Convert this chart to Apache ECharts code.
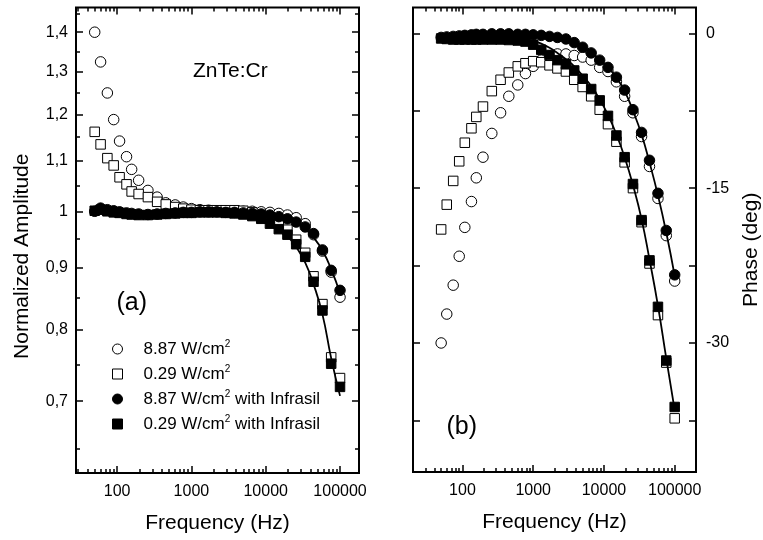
<!DOCTYPE html>
<html><head><meta charset="utf-8">
<script src="https://cdn.jsdelivr.net/npm/echarts@6/dist/echarts.min.js"></script>
<style>html,body{margin:0;padding:0;background:#fff}#c{width:763px;height:540px}</style>
</head><body><div id="c"></div>
<script>
// ---------- data ----------
const freq = [50, 60, 74, 90, 108, 134, 157, 195, 260, 346, 452, 605, 777, 1000, 1300, 1700, 2200, 2900, 3800, 5000, 6600, 8700, 11400, 15000, 19600, 25700, 34000, 44000, 58000, 76000, 100000];
const fitFreq = [1000, 1300, 1700, 2200, 2900, 3800, 5000, 6600, 8700, 11400, 15000, 19600, 25700, 34000, 44000, 58000, 76000, 100000];

// (a) normalized amplitude
const ampOpenCircle = [1.400, 1.324, 1.249, 1.188, 1.141, 1.108, 1.082, 1.060, 1.040, 1.027, 1.016, 1.012, 1.008, 1.005, 1.003, 1.002, 1.001, 1.000, 1.000, 1.000, 1.000, 0.999, 0.998, 0.996, 0.993, 0.988, 0.977, 0.957, 0.928, 0.892, 0.851];
const ampOpenSquare = [1.161, 1.134, 1.105, 1.090, 1.066, 1.052, 1.038, 1.033, 1.027, 1.018, 1.013, 1.008, 1.005, 1.003, 1.002, 1.002, 1.002, 1.002, 1.002, 1.001, 0.998, 0.993, 0.986, 0.976, 0.966, 0.948, 0.925, 0.885, 0.840, 0.760, 0.731];
const ampFilledCircle = [1.000, 1.006, 1.003, 1.001, 0.999, 0.997, 0.996, 0.995, 0.994, 0.995, 0.996, 0.997, 0.998, 0.998, 0.999, 0.999, 0.999, 0.998, 0.998, 0.997, 0.996, 0.995, 0.993, 0.990, 0.986, 0.980, 0.971, 0.959, 0.930, 0.895, 0.862];
const ampFilledSquare = [1.001, 1.003, 1.000, 0.998, 0.997, 0.995, 0.994, 0.993, 0.993, 0.994, 0.995, 0.996, 0.997, 0.997, 0.998, 0.998, 0.998, 0.997, 0.996, 0.994, 0.991, 0.986, 0.977, 0.967, 0.957, 0.940, 0.918, 0.876, 0.830, 0.751, 0.719];
const ampFitCircle = [0.999, 0.999, 0.999, 0.999, 0.999, 0.998, 0.998, 0.997, 0.996, 0.994, 0.990, 0.985, 0.978, 0.967, 0.952, 0.929, 0.897, 0.857];
const ampFitSquare = [0.998, 0.998, 0.998, 0.998, 0.997, 0.996, 0.994, 0.991, 0.986, 0.979, 0.969, 0.955, 0.935, 0.908, 0.872, 0.824, 0.759, 0.707];

// (b) phase (deg)
const phOpenCircle = [-30.0, -27.2, -24.4, -21.6, -18.8, -16.3, -14.0, -12.0, -9.7, -7.7, -6.1, -5.0, -3.9, -3.2, -2.6, -2.2, -2.0, -2.0, -2.15, -2.3, -2.6, -3.3, -3.7, -4.7, -6.1, -7.7, -10.0, -12.9, -16.0, -19.6, -24.0];
const phOpenSquare = [-19.0, -16.6, -14.3, -12.4, -10.6, -9.2, -8.1, -7.1, -5.6, -4.5, -3.8, -3.2, -2.9, -2.7, -2.8, -3.1, -3.4, -3.7, -4.5, -5.2, -6.1, -7.4, -8.8, -10.5, -12.5, -15.0, -18.3, -22.3, -27.3, -31.9, -37.3];
const phFilledCircle = [-0.4, -0.35, -0.3, -0.25, -0.2, -0.15, -0.1, -0.1, -0.05, -0.05, -0.05, -0.1, -0.1, -0.15, -0.2, -0.3, -0.4, -0.55, -0.9, -1.35, -1.9, -2.6, -3.3, -4.25, -5.5, -7.4, -9.6, -12.3, -15.5, -19.1, -23.4];
const phFilledSquare = [-0.5, -0.55, -0.6, -0.6, -0.6, -0.6, -0.6, -0.6, -0.6, -0.6, -0.65, -0.7, -0.8, -1.1, -1.6, -2.1, -2.6, -3.0, -3.6, -4.4, -5.4, -6.5, -8.0, -9.9, -12.0, -14.6, -18.1, -22.0, -26.5, -31.7, -36.2];
const phFitCircle = [-0.2, -0.3, -0.4, -0.55, -0.75, -1.0, -1.4, -1.9, -2.5, -3.3, -4.3, -5.6, -7.5, -9.8, -12.5, -15.7, -19.3, -23.5];
const phFitSquare = [-0.7, -1.0, -1.4, -1.9, -2.5, -3.2, -4.1, -5.1, -6.4, -7.9, -9.8, -12.0, -14.7, -18.0, -21.9, -26.4, -31.5, -36.5];

const seriesNames = ['8.87 W/cm²', '0.29 W/cm²', '8.87 W/cm² with Infrasil', '0.29 W/cm² with Infrasil'];

// ---------- ticks ----------
const xMajorTicks = [100, 1000, 10000, 100000];
const xMajorLabels = ['100', '1000', '10000', '100000'];
const xMinorTicks = [30, 40, 50, 60, 70, 80, 90, 200, 300, 400, 500, 600, 700, 800, 900, 2000, 3000, 4000, 5000, 6000, 7000, 8000, 9000, 20000, 30000, 40000, 50000, 60000, 70000, 80000, 90000];
const ampMajorTicks = [0.7, 0.8, 0.9, 1.0, 1.1, 1.2, 1.3, 1.4];
const ampMajorLabels = ['0,7', '0,8', '0,9', '1', '1,1', '1,2', '1,3', '1,4'];
const ampMinorTicks = [0.64, 0.75, 0.85, 0.95, 1.05, 1.15, 1.25, 1.35, 1.45];
const phaseTicks = [-37.5, -30, -22.5, -15, -7.5, 0];
const phaseLabelTicks = [-30, -15, 0];
const phaseLabels = ['-30', '-15', '0'];

const xRangeA = [28, 180000], xRangeB = [20, 200000];
const ampRange = [0.6116, 1.4665], phaseRange = [-42.5, 2.5];

// ---------- chart ----------
const FONT = "'Liberation Sans', Arial, sans-serif";
const L = Math.log10;
const pairs = (xs, ys) => xs.map((x, i) => [x, ys[i]]);
const tick = (len, extra) => Object.assign({show: true, inside: true, length: len, lineStyle: {color: '#000', width: 1.5}}, extra || {});
const noLine = {show: false, onZero: false};
const lab = (extra) => Object.assign({color: '#000', fontSize: 16, fontFamily: FONT}, extra);

function fmtX(v) {
  const i = xMajorTicks.findIndex(t => Math.abs(t - v) / t < 1e-6);
  return i >= 0 ? xMajorLabels[i] : '';
}
function fmtAmp(v) {
  const i = ampMajorTicks.findIndex(t => Math.abs(L(t) - v) < 1e-6);
  return i >= 0 ? ampMajorLabels[i] : '';
}
function fmtPhase(v) {
  const i = phaseLabelTicks.findIndex(t => Math.abs(t - v) < 1e-6);
  return i >= 0 ? phaseLabels[i] : '';
}

const xAxes = [];
function addX(grid, range) {
  xAxes.push({gridIndex: grid, type: 'log', logBase: 10, position: 'bottom', min: range[0], max: range[1],
    axisLine: noLine, splitLine: {show: false}, axisTick: tick(7),
    axisLabel: lab({margin: 11, formatter: fmtX, showMinLabel: true, showMaxLabel: true}),
    name: 'Frequency (Hz)', nameLocation: 'middle', nameGap: 40, nameMoveOverlap: false,
    nameTextStyle: {color: '#000', fontSize: 21, fontFamily: FONT}});
  xAxes.push({gridIndex: grid, type: 'log', logBase: 10, position: 'top', min: range[0], max: range[1],
    axisLine: noLine, splitLine: {show: false}, axisTick: tick(7), axisLabel: {show: false}});
  ['bottom', 'top'].forEach(pos => xAxes.push({gridIndex: grid, type: 'value', position: pos,
    min: L(range[0]), max: L(range[1]), axisLine: noLine, splitLine: {show: false},
    axisLabel: {show: false}, axisTick: tick(4, {customValues: xMinorTicks.map(L)})}));
}
addX(0, xRangeA);
addX(1, xRangeB);

const ampLogMin = L(ampRange[0]), ampLogMax = L(ampRange[1]);
const yAxes = [
  {gridIndex: 0, type: 'log', logBase: 10, position: 'left', min: ampRange[0], max: ampRange[1],
    axisLine: noLine, axisTick: {show: false}, axisLabel: {show: false}, splitLine: {show: false},
    name: 'Normalized Amplitude', nameLocation: 'middle', nameGap: 43, nameRotate: 90, nameMoveOverlap: false,
    nameTextStyle: {color: '#000', fontSize: 21, fontFamily: FONT, padding: [0, 32, 0, 0]}},
  {gridIndex: 0, type: 'value', position: 'left', min: ampLogMin, max: ampLogMax, axisLine: noLine, splitLine: {show: false},
    axisTick: tick(7, {customValues: ampMajorTicks.map(L)}),
    axisLabel: lab({margin: 8, customValues: ampMajorTicks.map(L), formatter: fmtAmp})},
  {gridIndex: 0, type: 'value', position: 'left', min: ampLogMin, max: ampLogMax, axisLine: noLine, splitLine: {show: false},
    axisTick: tick(4, {customValues: ampMinorTicks.map(L)}), axisLabel: {show: false}},
  {gridIndex: 0, type: 'value', position: 'right', min: ampLogMin, max: ampLogMax, axisLine: noLine, splitLine: {show: false},
    axisTick: tick(7, {customValues: ampMajorTicks.map(L)}), axisLabel: {show: false}},
  {gridIndex: 0, type: 'value', position: 'right', min: ampLogMin, max: ampLogMax, axisLine: noLine, splitLine: {show: false},
    axisTick: tick(4, {customValues: ampMinorTicks.map(L)}), axisLabel: {show: false}},
  {gridIndex: 1, type: 'value', position: 'right', min: phaseRange[0], max: phaseRange[1], axisLine: noLine, splitLine: {show: false},
    axisTick: tick(7, {customValues: phaseTicks}),
    axisLabel: lab({margin: 10, customValues: phaseLabelTicks, formatter: fmtPhase}),
    name: 'Phase (deg)', nameLocation: 'middle', nameGap: 45, nameRotate: 90, nameMoveOverlap: false,
    nameTextStyle: {color: '#000', fontSize: 21, fontFamily: FONT, padding: [0, 20, 0, 0]}},
  {gridIndex: 1, type: 'value', position: 'left', min: phaseRange[0], max: phaseRange[1], axisLine: noLine, splitLine: {show: false},
    axisTick: tick(7, {customValues: phaseTicks}), axisLabel: {show: false}}
];

const openStyle = {color: '#fff', borderColor: '#000', borderWidth: 1, opacity: 1};
const fillStyle = {color: '#000', borderColor: '#000', borderWidth: 1, opacity: 1};
function scatter(name, xi, yi, ys, symbol, style) {
  return {type: 'scatter', name, xAxisIndex: xi, yAxisIndex: yi, data: pairs(freq, ys),
    symbol, symbolSize: symbol === 'circle' ? 10.5 : 9.5, itemStyle: style, silent: true, z: 2};
}
function fit(name, xi, yi, ys) {
  return {type: 'line', name, xAxisIndex: xi, yAxisIndex: yi, data: pairs(fitFreq, ys), smooth: true,
    showSymbol: false, symbol: 'none', lineStyle: {color: '#000', width: 1.8}, silent: true, z: 3};
}

const series = [
  scatter(seriesNames[0], 0, 0, ampOpenCircle, 'circle', openStyle),
  scatter(seriesNames[1], 0, 0, ampOpenSquare, 'rect', openStyle),
  scatter(seriesNames[2], 0, 0, ampFilledCircle, 'circle', fillStyle),
  scatter(seriesNames[3], 0, 0, ampFilledSquare, 'rect', fillStyle),
  fit('fitA1', 0, 0, ampFitCircle),
  fit('fitA2', 0, 0, ampFitSquare),
  scatter(seriesNames[0], 4, 5, phOpenCircle, 'circle', openStyle),
  scatter(seriesNames[1], 4, 5, phOpenSquare, 'rect', openStyle),
  scatter(seriesNames[2], 4, 5, phFilledCircle, 'circle', fillStyle),
  scatter(seriesNames[3], 4, 5, phFilledSquare, 'rect', fillStyle),
  fit('fitB1', 4, 5, phFitCircle),
  fit('fitB2', 4, 5, phFitSquare)
];

const chart = echarts.init(document.getElementById('c'), null, {renderer: 'canvas'});
chart.setOption({
  animation: false,
  backgroundColor: '#fff',
  grid: [
    {left: 76, top: 7.5, width: 283, height: 465.5, show: true, borderColor: '#000', borderWidth: 2, backgroundColor: 'transparent'},
    {left: 413, top: 7.5, width: 284, height: 464.5, show: true, borderColor: '#000', borderWidth: 2, backgroundColor: 'transparent'}
  ],
  xAxis: xAxes,
  yAxis: yAxes,
  legend: {
    data: seriesNames, orient: 'vertical', left: 112, top: 339, padding: 0,
    itemWidth: 10, itemHeight: 10, itemGap: 5, selectedMode: false,
    itemStyle: {borderWidth: 1, opacity: 1},
    formatter: n => n.replace('²', '{sup|2}'),
    textStyle: {color: '#000', fontSize: 17, fontFamily: FONT, lineHeight: 20, padding: [0, 0, 0, 16],
      rich: {sup: {fontSize: 10, lineHeight: 12, verticalAlign: 'top', color: '#000', fontFamily: FONT}}}
  },
  graphic: [
    {type: 'text', x: 193, y: 71.5, style: {text: 'ZnTe:Cr', font: "21px 'Liberation Sans', Arial, sans-serif", fill: '#000', verticalAlign: 'middle'}},
    {type: 'text', x: 116.5, y: 303.5, style: {text: '(a)', font: "25px 'Liberation Sans', Arial, sans-serif", fill: '#000', verticalAlign: 'middle'}},
    {type: 'text', x: 446.5, y: 427, style: {text: '(b)', font: "25px 'Liberation Sans', Arial, sans-serif", fill: '#000', verticalAlign: 'middle'}}
  ],
  series
});
</script>
</body></html>
